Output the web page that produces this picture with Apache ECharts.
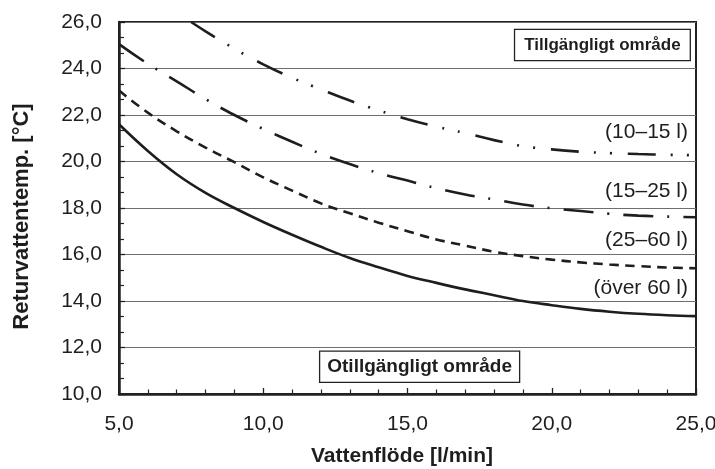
<!DOCTYPE html>
<html>
<head>
<meta charset="utf-8">
<script src="https://cdn.jsdelivr.net/npm/echarts@6/dist/echarts.min.js"></script>
<style>
  html, body { margin: 0; padding: 0; background: #ffffff; }
  #chart { width: 715px; height: 469px; }
</style>
</head>
<body>
<div id="chart"></div>
<script>
// ---- data ----
const flow = [5, 6, 7, 8, 9, 10, 11, 12, 13, 14, 15, 16, 17, 18, 19, 20, 21, 22, 23, 24, 25];
const over60 = [21.6, 20.45, 19.45, 18.65, 18.0, 17.4, 16.85, 16.33, 15.85, 15.45, 15.08, 14.78, 14.5, 14.25, 14.0, 13.82, 13.66, 13.54, 13.45, 13.39, 13.35];
const l25to60 = [23.05, 22.1, 21.3, 20.6, 19.97, 19.32, 18.75, 18.2, 17.77, 17.37, 17.0, 16.65, 16.38, 16.12, 15.93, 15.78, 15.66, 15.57, 15.5, 15.44, 15.41];
const l15to25 = [25.05, 24.2, 23.45, 22.68, 22.0, 21.4, 20.85, 20.33, 19.89, 19.5, 19.18, 18.85, 18.58, 18.37, 18.15, 17.99, 17.87, 17.75, 17.67, 17.63, 17.6];
const flow10to15 = [7.5, 8, 9, 10, 11, 12, 13, 14, 15, 16, 17, 18, 19, 20, 21, 22, 23, 24, 25];
const l10to15 = [26.0, 25.6, 24.85, 24.18, 23.6, 23.1, 22.62, 22.2, 21.82, 21.5, 21.22, 20.92, 20.66, 20.52, 20.42, 20.36, 20.32, 20.29, 20.27];
const seriesNames = ['(över 60 l)', '(25–60 l)', '(15–25 l)', '(10–15 l)'];
const areaNames = ['Tillgängligt område', 'Otillgängligt område'];
const xTitle = 'Vattenflöde [l/min]';
const yTitle = 'Returvattentemp. [°C]';

// ---- chart ----
const FONT = '"Liberation Sans", Arial, Helvetica, sans-serif';
const INK = '#1e1e1e';
const pairs = (xs, ys) => xs.map((x, i) => [x, ys[i]]);
const fmt = v => v.toFixed(1).replace('.', ',');

function curveLabel(text, y) {
  return {
    symbol: 'rect', symbolSize: 0, silent: true, animation: false,
    data: [{
      coord: [25, y],
      label: {
        show: true, position: 'left', distance: 8, formatter: text,
        fontFamily: FONT, fontSize: 21, color: INK
      }
    }]
  };
}

function boxPoint(text, x, y, fontSize, lineHeight, padding) {
  return {
    coord: [x, y],
    label: {
      show: true, position: 'inside', formatter: text,
      fontFamily: FONT, fontSize: fontSize, fontWeight: 'bold', color: INK,
      lineHeight: lineHeight, padding: padding,
      borderColor: '#222', borderWidth: 1.3, backgroundColor: '#ffffff'
    }
  };
}

const lineCommon = { type: 'line', showSymbol: false, symbol: 'none', smooth: 0.4, animation: false, clip: true };

const chart = echarts.init(document.getElementById('chart'), null, { renderer: 'canvas' });
chart.setOption({
  backgroundColor: '#ffffff',
  animation: false,
  grid: {
    left: 119, right: 19, top: 22, bottom: 75,
    show: true, borderColor: '#222', borderWidth: 2,
    containLabel: false, outerBoundsMode: 'none'
  },
  xAxis: {
    type: 'value', min: 5, max: 25, interval: 5,
    name: xTitle, nameLocation: 'middle', nameGap: 52,
    nameTextStyle: { fontFamily: FONT, fontSize: 21, fontWeight: 'bold', color: INK, padding: [0, 11, 0, 0] },
    axisLine: { show: true, lineStyle: { color: '#222', width: 2.5 } },
    axisTick: { show: true, inside: true, length: 6, lineStyle: { color: '#222', width: 1.3 } },
    minorTick: { show: true, splitNumber: 5, length: 4.5, lineStyle: { color: '#222', width: 1.2 } },
    axisLabel: { fontFamily: FONT, fontSize: 21, color: INK, margin: 20, formatter: fmt, showMinLabel: true, showMaxLabel: true },
    splitLine: { show: false }
  },
  yAxis: {
    type: 'value', min: 10, max: 26, interval: 2,
    name: yTitle, nameLocation: 'middle', nameGap: 86, nameRotate: 90,
    nameTextStyle: { fontFamily: FONT, fontSize: 22, fontWeight: 'bold', color: INK, padding: [0, 17, 0, 0] },
    axisLine: { show: true, lineStyle: { color: '#222', width: 2.5 } },
    axisTick: { show: true, inside: true, length: 6, lineStyle: { color: '#222', width: 1.3 } },
    minorTick: { show: true, splitNumber: 3, length: 5, lineStyle: { color: '#222', width: 1.2 } },
    axisLabel: { fontFamily: FONT, fontSize: 21, color: INK, margin: 17, formatter: fmt, padding: [3, 0, 0, 0] },
    splitLine: { show: true, lineStyle: { color: '#6e6e6e', width: 1.2 } }
  },
  series: [
    Object.assign({}, lineCommon, {
      name: seriesNames[0], data: pairs(flow, over60),
      lineStyle: { color: INK, width: 2.6, type: 'solid' },
      markPoint: curveLabel(seriesNames[0], 14.55)
    }),
    Object.assign({}, lineCommon, {
      name: seriesNames[1], data: pairs(flow, l25to60),
      lineStyle: { color: INK, width: 2.6, type: [9.5, 6.5], cap: 'butt' },
      markPoint: curveLabel(seriesNames[1], 16.62)
    }),
    Object.assign({}, lineCommon, {
      name: seriesNames[2], data: pairs(flow, l15to25),
      lineStyle: { color: INK, width: 2.6, type: [30, 14, 2, 14], cap: 'butt' },
      markPoint: curveLabel(seriesNames[2], 18.73)
    }),
    Object.assign({}, lineCommon, {
      name: seriesNames[3], data: pairs(flow10to15, l10to15),
      lineStyle: { color: INK, width: 2.6, type: [28, 15, 2, 14, 2, 16], cap: 'butt' },
      markPoint: curveLabel(seriesNames[3], 21.28)
    }),
    {
      type: 'line', data: [], silent: true, animation: false,
      markPoint: {
        symbol: 'rect', symbolSize: 0, silent: true, animation: false,
        data: [
          boxPoint(areaNames[0], 21.756, 25.01, 17, 20, [5, 9, 5, 9]),
          boxPoint(areaNames[1], 15.42, 11.17, 19, 22, [4, 7, 4, 7])
        ]
      }
    }
  ]
});
</script>
</body>
</html>
